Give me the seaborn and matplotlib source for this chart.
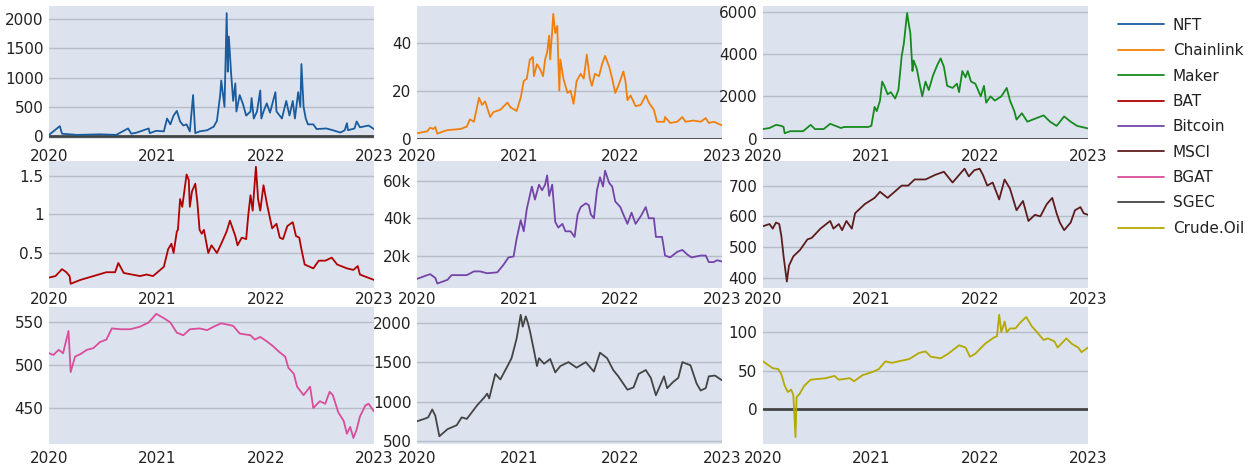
import numpy as np
import pandas as pd
import matplotlib
matplotlib.use("Agg")
import matplotlib.pyplot as plt
from matplotlib.ticker import FuncFormatter, FixedLocator
from matplotlib.lines import Line2D
import seaborn as sns

# ---- data: decimal year positions and values for each series ----
nft_t = [2020.00, 2020.10, 2020.12, 2020.26, 2020.47, 2020.62, 2020.73, 2020.76, 2020.81, 2020.92,
         2020.93, 2020.99, 2021.06, 2021.09, 2021.12, 2021.15, 2021.18, 2021.21, 2021.24, 2021.27,
         2021.30, 2021.33, 2021.35, 2021.39, 2021.46, 2021.52, 2021.55, 2021.58, 2021.59, 2021.62,
         2021.64, 2021.65, 2021.66, 2021.68, 2021.70, 2021.72, 2021.73, 2021.76, 2021.79, 2021.82,
         2021.86, 2021.87, 2021.89, 2021.92, 2021.95, 2021.96, 2021.98, 2022.01, 2022.04, 2022.09,
         2022.10, 2022.15, 2022.19, 2022.22, 2022.25, 2022.27, 2022.30, 2022.32, 2022.33, 2022.35,
         2022.37, 2022.39, 2022.44, 2022.47, 2022.56, 2022.62, 2022.69, 2022.73, 2022.75, 2022.76,
         2022.82, 2022.84, 2022.87, 2022.95, 2023.00]
nft_v = [20, 170, 40, 20, 30, 20, 130, 40, 60, 130,
         50, 90, 80, 300, 200, 350, 430, 250, 180, 200,
         80, 700, 50, 80, 100, 160, 260, 700, 950, 500,
         2100, 1100, 1700, 1100, 600, 900, 420, 700, 550, 350,
         420, 650, 300, 420, 780, 300, 420, 560, 400, 750,
         420, 300, 600, 350, 600, 300, 750, 500, 1230, 500,
         300, 200, 200, 120, 130, 100, 60, 100, 220, 100,
         130, 250, 150, 180, 120]

chainlink_t = [2020.00, 2020.10, 2020.13, 2020.16, 2020.18, 2020.20, 2020.26, 2020.30, 2020.43, 2020.49,
               2020.52, 2020.56, 2020.61, 2020.64, 2020.67, 2020.72, 2020.75, 2020.82, 2020.89, 2020.92,
               2020.98, 2021.02, 2021.05, 2021.08, 2021.11, 2021.14, 2021.15, 2021.18, 2021.21, 2021.24,
               2021.26, 2021.28, 2021.30, 2021.31, 2021.33, 2021.34, 2021.36, 2021.38, 2021.39, 2021.40,
               2021.41, 2021.44, 2021.48, 2021.51, 2021.54, 2021.57, 2021.61, 2021.64, 2021.67, 2021.70,
               2021.72, 2021.75, 2021.79, 2021.82, 2021.85, 2021.89, 2021.92, 2021.95, 2021.98, 2022.03,
               2022.05, 2022.07, 2022.10, 2022.15, 2022.20, 2022.25, 2022.28, 2022.33, 2022.36, 2022.43,
               2022.44, 2022.49, 2022.56, 2022.61, 2022.64, 2022.72, 2022.79, 2022.84, 2022.87, 2022.92,
               2023.00]
chainlink_v = [2.2, 3, 4.5, 4, 4.8, 2, 3, 3.5, 4, 5,
               8, 7, 17, 14, 15.5, 9, 11, 12, 15, 13,
               11.5, 17, 24, 25, 33, 34, 26, 31, 29, 26,
               33, 36, 43, 33, 45, 52, 44, 47, 32, 20,
               33, 25, 19, 20, 14.5, 24, 27, 25, 35, 25,
               22, 27, 26, 31, 34.5, 30, 25, 19, 22, 28,
               24, 16, 18, 13.5, 14, 18, 15, 12, 7, 7,
               9, 6.5, 7, 9, 7, 7.5, 7, 8.5, 6.5, 7,
               5.5]

maker_t = [2020.00, 2020.06, 2020.12, 2020.17, 2020.19, 2020.20, 2020.25, 2020.37, 2020.44, 2020.48,
           2020.56, 2020.62, 2020.67, 2020.72, 2020.75, 2020.84, 2020.97, 2021.00, 2021.03, 2021.05,
           2021.08, 2021.10, 2021.12, 2021.15, 2021.18, 2021.22, 2021.25, 2021.28, 2021.30, 2021.33,
           2021.35, 2021.36, 2021.38, 2021.39, 2021.42, 2021.45, 2021.47, 2021.50, 2021.53, 2021.57,
           2021.61, 2021.64, 2021.67, 2021.70, 2021.75, 2021.79, 2021.81, 2021.84, 2021.87, 2021.89,
           2021.92, 2021.96, 2022.01, 2022.04, 2022.06, 2022.10, 2022.14, 2022.20, 2022.25, 2022.28,
           2022.32, 2022.34, 2022.39, 2022.44, 2022.49, 2022.54, 2022.59, 2022.65, 2022.71, 2022.78,
           2022.84, 2022.90, 2023.00]
maker_v = [450, 500, 650, 600, 550, 250, 350, 350, 650, 450,
           450, 700, 600, 500, 550, 550, 550, 600, 1500, 1300,
           1800, 2700, 2500, 2100, 2200, 1900, 2300, 3900, 4500, 5950,
           5300, 5000, 3200, 3700, 3300, 2500, 2000, 2700, 2300, 3000,
           3500, 3800, 3400, 2500, 2400, 2600, 2200, 3200, 2900, 3200,
           2700, 2600, 2000, 2500, 1700, 2000, 1800, 2000, 2400, 1800,
           1300, 900, 1200, 800, 900, 1000, 1100, 800, 600, 1050,
           800, 600, 480]

bat_t = [2020.00, 2020.06, 2020.12, 2020.16, 2020.19, 2020.20, 2020.29, 2020.41, 2020.53, 2020.61,
         2020.64, 2020.69, 2020.84, 2020.90, 2020.96, 2021.06, 2021.10, 2021.13, 2021.15, 2021.18,
         2021.19, 2021.21, 2021.23, 2021.27, 2021.29, 2021.30, 2021.32, 2021.35, 2021.37, 2021.39,
         2021.41, 2021.43, 2021.47, 2021.50, 2021.55, 2021.59, 2021.64, 2021.67, 2021.70, 2021.72,
         2021.74, 2021.78, 2021.82, 2021.84, 2021.86, 2021.88, 2021.91, 2021.93, 2021.95, 2021.98,
         2022.01, 2022.04, 2022.06, 2022.10, 2022.13, 2022.16, 2022.20, 2022.25, 2022.28, 2022.31,
         2022.33, 2022.36, 2022.44, 2022.49, 2022.55, 2022.61, 2022.66, 2022.75, 2022.81, 2022.85,
         2022.87, 2023.00]
bat_v = [0.18, 0.2, 0.29, 0.25, 0.2, 0.1, 0.15, 0.2, 0.25, 0.25,
         0.37, 0.24, 0.2, 0.22, 0.2, 0.32, 0.55, 0.62, 0.5, 0.78,
         0.8, 1.2, 1.1, 1.52, 1.45, 1.1, 1.3, 1.4, 1.15, 0.8,
         0.75, 0.8, 0.5, 0.6, 0.5, 0.62, 0.78, 0.92, 0.8, 0.72,
         0.6, 0.7, 0.68, 1.0, 1.25, 1.05, 1.62, 1.2, 1.05, 1.38,
         1.15, 0.95, 0.82, 0.88, 0.7, 0.68, 0.85, 0.9, 0.72, 0.7,
         0.55, 0.35, 0.3, 0.4, 0.4, 0.44, 0.35, 0.3, 0.28, 0.33,
         0.22, 0.15]

bitcoin_t = [2020.00, 2020.10, 2020.13, 2020.18, 2020.20, 2020.30, 2020.34, 2020.49, 2020.56, 2020.62,
             2020.69, 2020.79, 2020.85, 2020.90, 2020.95, 2020.98, 2021.02, 2021.05, 2021.08, 2021.13,
             2021.16, 2021.20, 2021.23, 2021.26, 2021.28, 2021.30, 2021.33, 2021.36, 2021.39, 2021.43,
             2021.46, 2021.51, 2021.55, 2021.58, 2021.61, 2021.66, 2021.69, 2021.71, 2021.74, 2021.77,
             2021.80, 2021.83, 2021.85, 2021.89, 2021.92, 2021.95, 2022.00, 2022.03, 2022.07, 2022.11,
             2022.15, 2022.20, 2022.25, 2022.28, 2022.33, 2022.35, 2022.41, 2022.44, 2022.49, 2022.56,
             2022.61, 2022.66, 2022.70, 2022.79, 2022.84, 2022.87, 2022.92, 2022.95, 2023.00]
bitcoin_v = [7500, 9500, 10000, 8000, 5000, 7000, 9500, 9500, 11500, 11500,
             10500, 11000, 15000, 19000, 19500, 29000, 39000, 33000, 45000, 57000,
             50000, 58000, 55000, 58000, 63000, 52000, 58000, 38000, 35000, 37000,
             33000, 33000, 30000, 42000, 46000, 48000, 47000, 42000, 40000, 55000,
             62000, 57000, 65500, 59000, 57000, 49000, 46000, 42000, 37000, 43000,
             37000, 41000, 46000, 40000, 40000, 30000, 30000, 20000, 19000, 22000,
             23000, 20500, 19000, 20000, 20000, 16500, 16500, 17500, 16800]

msci_t = [2020.00, 2020.06, 2020.09, 2020.12, 2020.15, 2020.17, 2020.19, 2020.22, 2020.24, 2020.28,
          2020.34, 2020.41, 2020.45, 2020.53, 2020.62, 2020.65, 2020.70, 2020.73, 2020.77, 2020.82,
          2020.85, 2020.94, 2021.03, 2021.08, 2021.15, 2021.28, 2021.34, 2021.40, 2021.50, 2021.59,
          2021.67, 2021.75, 2021.86, 2021.90, 2021.95, 2022.00, 2022.03, 2022.07, 2022.12, 2022.18,
          2022.23, 2022.28, 2022.34, 2022.40, 2022.45, 2022.51, 2022.56, 2022.62, 2022.67, 2022.71,
          2022.74, 2022.78, 2022.84, 2022.88, 2022.93, 2022.96, 2023.00]
msci_v = [568, 575, 560, 580, 575, 535, 470, 388, 440, 470,
          490, 525, 530, 560, 585, 560, 575, 555, 585, 560,
          610, 640, 660, 680, 660, 700, 700, 720, 720, 735,
          745, 710, 755, 730, 750, 755, 735, 700, 710, 655,
          720, 690, 620, 650, 585, 605, 600, 640, 660, 610,
          580, 555, 580, 620, 630, 610, 605]

bgat_t = [2020.00, 2020.04, 2020.09, 2020.13, 2020.18, 2020.20, 2020.24, 2020.29, 2020.35, 2020.41,
          2020.47, 2020.53, 2020.58, 2020.66, 2020.75, 2020.84, 2020.92, 2020.99, 2021.06, 2021.12,
          2021.18, 2021.24, 2021.30, 2021.39, 2021.46, 2021.52, 2021.59, 2021.70, 2021.76, 2021.86,
          2021.90, 2021.95, 2022.01, 2022.07, 2022.13, 2022.18, 2022.21, 2022.26, 2022.29, 2022.35,
          2022.41, 2022.44, 2022.50, 2022.55, 2022.59, 2022.62, 2022.67, 2022.72, 2022.75, 2022.78,
          2022.81, 2022.84, 2022.87, 2022.92, 2022.95, 2023.00]
bgat_v = [514, 512, 518, 514, 540, 492, 510, 513, 518, 520,
          527, 530, 543, 542, 542, 545, 550, 560, 555, 550,
          538, 535, 542, 543, 541, 545, 549, 546, 537, 535,
          530, 533, 528, 522, 515, 510, 497, 490, 475, 465,
          475, 450, 458, 455, 469, 465, 445, 435, 420, 428,
          415, 425, 440, 453, 455, 446]

sgec_t = [2020.00, 2020.07, 2020.11, 2020.15, 2020.18, 2020.22, 2020.30, 2020.39, 2020.44, 2020.49,
          2020.59, 2020.66, 2020.69, 2020.71, 2020.77, 2020.82, 2020.89, 2020.93, 2020.98, 2021.02,
          2021.04, 2021.07, 2021.09, 2021.11, 2021.15, 2021.18, 2021.20, 2021.25, 2021.31, 2021.36,
          2021.41, 2021.49, 2021.57, 2021.66, 2021.74, 2021.80, 2021.87, 2021.93, 2021.98, 2022.07,
          2022.13, 2022.18, 2022.25, 2022.30, 2022.35, 2022.43, 2022.46, 2022.52, 2022.57, 2022.61,
          2022.69, 2022.75, 2022.79, 2022.84, 2022.87, 2022.93, 2023.00]
sgec_v = [750, 780, 800, 900, 820, 560, 650, 700, 800, 780,
          950, 1050, 1100, 1040, 1350, 1280, 1450, 1550, 1800, 2100,
          1950, 2080, 2000, 1900, 1650, 1450, 1550, 1480, 1540, 1370,
          1450, 1500, 1430, 1500, 1380, 1620, 1550, 1400, 1320, 1150,
          1180, 1350, 1400, 1300, 1080, 1320, 1170, 1250, 1300, 1500,
          1460, 1230, 1140, 1170, 1320, 1330, 1270]

crude_t = [2020.00, 2020.05, 2020.09, 2020.14, 2020.17, 2020.20, 2020.23, 2020.26, 2020.28, 2020.30,
           2020.31, 2020.34, 2020.38, 2020.44, 2020.58, 2020.66, 2020.70, 2020.80, 2020.84, 2020.92,
           2021.01, 2021.07, 2021.13, 2021.19, 2021.25, 2021.35, 2021.44, 2021.50, 2021.55, 2021.64,
           2021.71, 2021.81, 2021.87, 2021.91, 2021.96, 2022.05, 2022.13, 2022.16, 2022.18, 2022.20,
           2022.23, 2022.25, 2022.28, 2022.33, 2022.37, 2022.43, 2022.48, 2022.53, 2022.59, 2022.63,
           2022.69, 2022.72, 2022.80, 2022.85, 2022.91, 2022.94, 2023.00]
crude_v = [62, 57, 53, 52, 45, 30, 22, 25, 18, -37,
           15, 20, 30, 38, 40, 43, 38, 40, 36, 44,
           48, 52, 62, 60, 62, 65, 73, 75, 68, 66,
           72, 83, 80, 68, 72, 85, 93, 95, 123, 100,
           114, 100, 105, 105, 112, 120, 108, 100, 90, 92,
           88, 80, 92, 85, 80, 74, 80]

series_names = ["NFT", "Chainlink", "Maker", "BAT", "Bitcoin", "MSCI", "BGAT", "SGEC", "Crude.Oil"]
series_t = [nft_t, chainlink_t, maker_t, bat_t, bitcoin_t, msci_t, bgat_t, sgec_t, crude_t]
series_v = [nft_v, chainlink_v, maker_v, bat_v, bitcoin_v, msci_v, bgat_v, sgec_v, crude_v]
year_ticks = [2020, 2021, 2022, 2023]

# ---- styling ----
colors = ["#1a5c9e", "#f27f0c", "#178a1e", "#b00000", "#7444a8",
          "#5e1c1c", "#d94d9a", "#444444", "#b5a900"]
y_ticks = [[0, 500, 1000, 1500, 2000], [0, 20, 40], [0, 2000, 4000, 6000],
           [0.5, 1, 1.5], [20000, 40000, 60000], [400, 500, 600, 700],
           [450, 500, 550], [500, 1000, 1500, 2000], [0, 50, 100]]
y_limits = [(-50, 2222), (-0.2, 55.3), (-20, 6282),
            (0.045, 1.695), (2600, 70700), (367, 780),
            (408, 568), (462, 2199), (-46, 133)]
zero_line = [True, True, True, False, False, False, False, False, True]

sns.set_theme(style="white")
plt.rcParams["font.family"] = ["DejaVu Sans"]

W, H = 1251, 470
fig = plt.figure(figsize=(W / 100, H / 100), dpi=100)

col_px = [(49, 374), (417, 722), (763, 1088)]
row_px = [(6, 139), (161, 288), (307, 444)]
x_label_pad = [7, 3, 5]

bg = "#dce3ef"
grid_c = "#b6bcc8"
text_c = "#222222"


def year_to_date(t):
    start = pd.Timestamp("2020-01-01")
    return [start + pd.Timedelta(days=(x - 2020) * 365.25) for x in t]


def bitcoin_fmt(v, pos):
    return f"{int(round(v / 1000))}k"


def plain_fmt(v, pos):
    return f"{v:g}"


handles = []
for i, name in enumerate(series_names):
    r, c = divmod(i, 3)
    x0, x1 = col_px[c]
    top, bot = row_px[r]
    ax = fig.add_axes([x0 / W, 1 - bot / H, (x1 - x0) / W, (bot - top) / H])
    ax.set_facecolor(bg)
    df = pd.DataFrame({"date": year_to_date(series_t[i]), "value": series_v[i]})
    sns.lineplot(data=df, x="date", y="value", ax=ax, color=colors[i],
                 linewidth=1.3, zorder=3)
    if zero_line[i]:
        ax.axhline(0, color="#444444", linewidth=2.0, zorder=2)
    ax.set_xlim(year_to_date([2020])[0], year_to_date([2023])[0])
    ax.set_ylim(*y_limits[i])
    ax.xaxis.set_major_locator(FixedLocator(matplotlib.dates.date2num(year_to_date(year_ticks))))
    ax.set_xticklabels([str(y) for y in year_ticks])
    ax.yaxis.set_major_locator(FixedLocator(y_ticks[i]))
    ax.yaxis.set_major_formatter(FuncFormatter(bitcoin_fmt if name == "Bitcoin" else plain_fmt))
    for t in y_ticks[i]:
        if not (zero_line[i] and t == 0):
            ax.axhline(t, color=grid_c, linewidth=1.0, zorder=1)
    ax.set_xlabel("")
    ax.set_ylabel("")
    for s in ax.spines.values():
        s.set_visible(False)
    ax.tick_params(axis="both", length=0, labelsize=11, colors=text_c)
    ax.tick_params(axis="x", pad=x_label_pad[r])
    ax.tick_params(axis="y", pad=4)
    handles.append(Line2D([0], [0], color=colors[i], linewidth=1.3))

fig.legend(handles, series_names, loc="upper left",
           bbox_to_anchor=(1104 / W, 1 - 4 / H), frameon=False,
           fontsize=11, handlelength=3.0, handletextpad=0.6,
           labelspacing=0.68, labelcolor=text_c)

fig.savefig("out.png", dpi=100, facecolor="white")
